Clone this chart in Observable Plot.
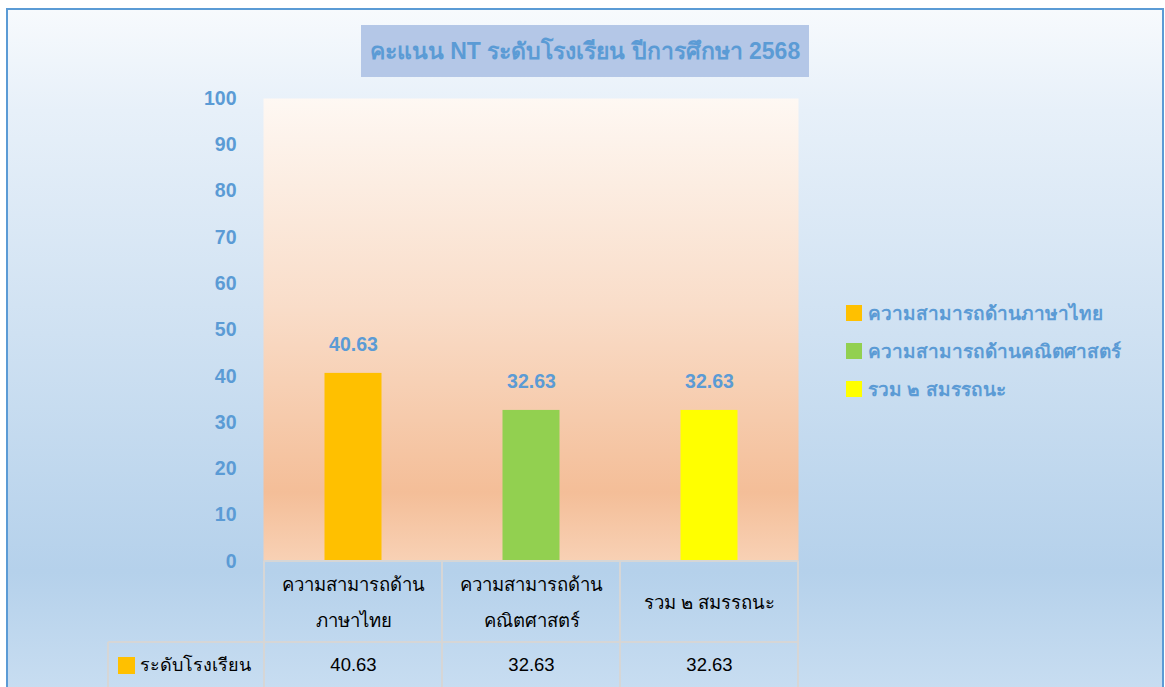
<!DOCTYPE html>
<html>
<head>
<meta charset="utf-8">
<script src="https://cdn.jsdelivr.net/npm/d3@7"></script>
<script src="https://cdn.jsdelivr.net/npm/@observablehq/plot@0.6"></script>
<style>
  html, body { margin: 0; padding: 0; background: #ffffff; }
  #wrap { position: relative; width: 1165px; height: 687px; overflow: hidden; background: #ffffff;
          font-family: "Liberation Sans", Arial, "Noto Sans", sans-serif; }
  #bg { position: absolute; left: 6px; top: 8px; width: 1154px; height: 720px;
        border: 2px solid #5B9BD5;
        background: linear-gradient(to bottom, #F7FAFD 0%, #E7F0F9 14%, #CFE1F2 45%, #B5D1EB 78%, #CEE1F3 100%); }
  #title { position: absolute; left: 361px; top: 25px; width: 448px; height: 52px; background: #B4C7E7;
           color: #5B9BD5; font-weight: bold; font-size: 23px; display: flex; align-items: center;
           justify-content: center; white-space: nowrap; }
  #chart { position: absolute; left: 0; top: 0; }
  #legend { position: absolute; left: 846px; top: 294px; }
  .li { display: flex; align-items: center; height: 38px; color: #5B9BD5;
        font-weight: bold; font-size: 19px; white-space: nowrap; }
  .sw { width: 16px; height: 16px; margin-right: 6px; flex: none; }
</style>
</head>
<body>
<div id="wrap">
  <div id="bg"></div>
  <div id="title"></div>
  <div id="chart"></div>
  <div id="legend"></div>
</div>
<script>
const titleText = "คะแนน NT ระดับโรงเรียน ปีการศึกษา 2568";
const categories = ["ความสามารถด้านภาษาไทย", "ความสามารถด้านคณิตศาสตร์", "รวม ๒ สมรรถนะ"];
const categoryTableLabels = ["ความสามารถด้าน\nภาษาไทย", "ความสามารถด้าน\nคณิตศาสตร์", "รวม ๒ สมรรถนะ"];
const values = [40.63, 32.63, 32.63];
const barColors = ["#FFC000", "#92D050", "#FFFF00"];
const seriesName = "ระดับโรงเรียน";
const seriesColor = "#FFC000";
const yTicks = [0, 10, 20, 30, 40, 50, 60, 70, 80, 90, 100];

const data = categories.map((c, i) => ({category: c, label: categoryTableLabels[i], value: values[i]}));

document.getElementById("title").textContent = titleText;

const legend = document.getElementById("legend");
categories.forEach((c, i) => {
  const row = document.createElement("div");
  row.className = "li";
  const sw = document.createElement("span");
  sw.className = "sw";
  sw.style.background = barColors[i];
  const t = document.createElement("span");
  t.textContent = c;
  row.appendChild(sw); row.appendChild(t);
  legend.appendChild(row);
});

const blue = "#5B9BD5";
const gridColor = "#D6D6D6";

const defsMark = () => {
  const defs = d3.create("svg:defs");
  const g = defs.append("linearGradient").attr("id", "plotAreaGrad")
    .attr("x1", 0).attr("y1", 0).attr("x2", 0).attr("y2", 1);
  [["0%", "#FEF8F3"], ["45%", "#F9DDC9"], ["85%", "#F4BE98"], ["100%", "#F8D1B5"]]
    .forEach(([o, c]) => g.append("stop").attr("offset", o).attr("stop-color", c));
  return defs.node();
};

const tableGrid = (index, scales, vals, dims) => {
  const x = scales.x;
  const top = dims.height - dims.marginBottom;
  const right = dims.width - dims.marginRight;
  const rowSplit = top + 81;
  const farBottom = dims.height + 40;
  const rowLeft = dims.marginLeft - 155;
  const edges = categories.map(c => x(c)).concat([right]);
  const g = d3.create("svg:g").attr("stroke", gridColor).attr("stroke-width", 2).attr("fill", "none");
  g.append("line").attr("x1", edges[0]).attr("x2", right).attr("y1", top).attr("y2", top);
  g.append("line").attr("x1", rowLeft).attr("x2", right).attr("y1", rowSplit).attr("y2", rowSplit);
  edges.forEach(e => g.append("line").attr("x1", e).attr("x2", e).attr("y1", top).attr("y2", farBottom));
  g.append("line").attr("x1", rowLeft).attr("x2", rowLeft).attr("y1", rowSplit).attr("y2", farBottom);
  g.append("rect").attr("x", rowLeft + 10).attr("y", rowSplit + 15).attr("width", 17).attr("height", 17)
    .attr("fill", seriesColor).attr("stroke", "none");
  g.append("text").attr("x", rowLeft + 32).attr("y", rowSplit + 23).attr("dy", "0.35em")
    .attr("text-anchor", "start")
    .attr("stroke", "none").attr("fill", "#000").attr("font-size", 18).text(seriesName);
  return g.node();
};

const chart = Plot.plot({
  width: 1165,
  height: 687,
  marginLeft: 263,
  marginRight: 367,
  marginTop: 98,
  marginBottom: 126,
  style: {background: "transparent", overflow: "visible", fontFamily: "'Liberation Sans', Arial, 'Noto Sans', sans-serif"},
  x: {domain: categories, padding: 0, axis: null},
  y: {domain: [0, 100], axis: null},
  color: {domain: categories, range: barColors},
  marks: [
    defsMark,
    Plot.frame({fill: "url(#plotAreaGrad)", stroke: "none"}),
    Plot.barY(data, {x: "category", y: "value", fill: "category", insetLeft: 60.5, insetRight: 60.5}),
    Plot.text(data, {x: "category", y: "value", text: d => d.value.toFixed(2), dy: -29,
      fill: blue, fontWeight: "bold", fontSize: 19.5}),
    Plot.axisY({ticks: yTicks, tickSize: 0, tickPadding: 27, fontSize: 19.5, fontWeight: "bold",
      color: blue, label: null}),
    tableGrid,
    Plot.text(data, {x: "category", frameAnchor: "bottom", dy: 36, text: "label", lineHeight: 1.95,
      lineAnchor: "middle", fill: "#000", fontSize: 18.5}),
    Plot.text(data, {x: "category", frameAnchor: "bottom", dy: 109, text: d => d.value.toFixed(2),
      fill: "#000", fontSize: 18.5})
  ]
});
document.getElementById("chart").appendChild(chart);
</script>
</body>
</html>
